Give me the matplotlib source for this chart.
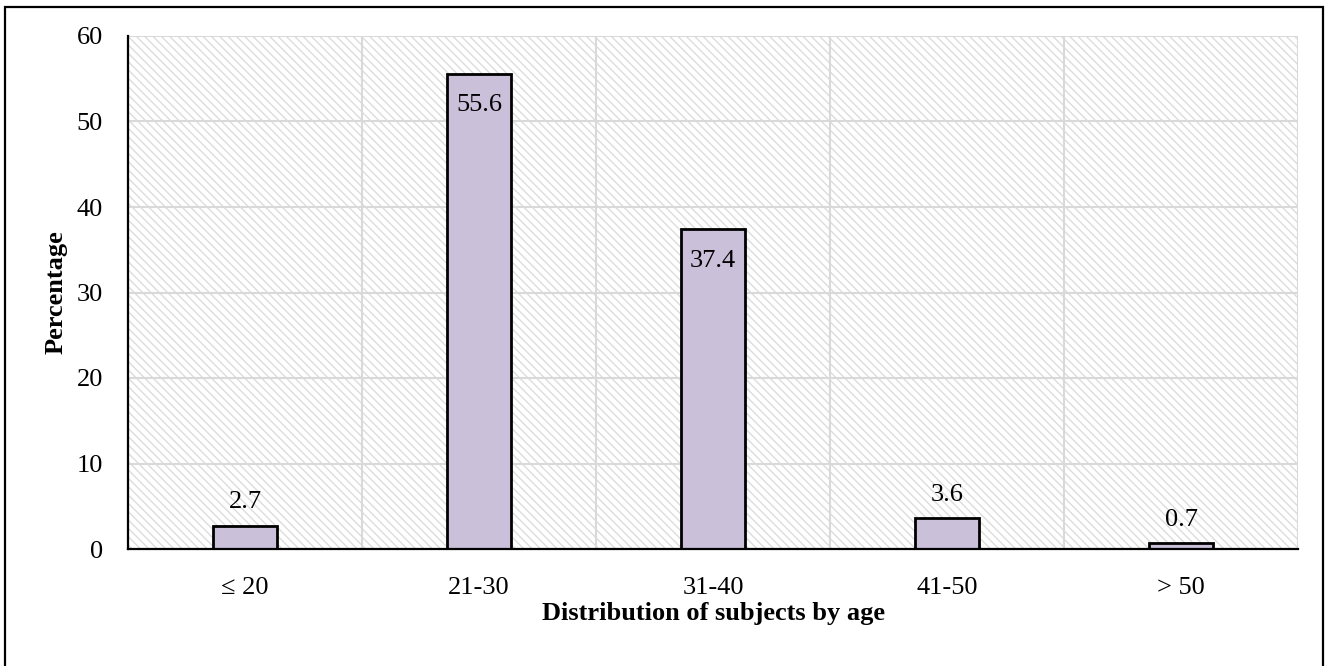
import matplotlib
matplotlib.use("Agg")
import matplotlib.pyplot as plt
from matplotlib.patches import Rectangle

plt.rcParams['font.family'] = ['Liberation Serif', 'DejaVu Serif']
plt.rcParams['hatch.linewidth'] = 1.0

# grupos de idade e percentual de sujeitos
categorias = ['≤ 20', '21-30', '31-40', '41-50', '> 50']
percentual = [2.7, 55.6, 37.4, 3.6, 0.7]
yticks = [0, 10, 20, 30, 40, 50, 60]

W, H = 1331, 666
fig = plt.figure(figsize=(W / 100, H / 100), dpi=100)
ax = fig.add_axes([128 / W, 1 - 549 / H, (1298 - 128) / W, (549 - 36) / H])

# moldura externa
fig.patches.append(Rectangle((5 / W, -0.05), (1323 - 5) / W, 1 - 7 / H + 0.05,
                             transform=fig.transFigure, fill=False,
                             edgecolor='black', linewidth=1.6, zorder=0))

# fundo com hachura diagonal
ax.set_facecolor('white')
ax.add_patch(Rectangle((0, 0), 1, 1, transform=ax.transAxes, facecolor='white',
                       edgecolor='#dcdcdc', hatch='\\\\\\\\', linewidth=0, zorder=0))

x = list(range(len(categorias)))
ax.bar(x, percentual, width=0.275, color='#cbc0da', edgecolor='black',
       linewidth=2, zorder=3)

for xi, v in zip(x, percentual):
    if v > 20:
        ax.annotate(f'{v}', (xi, v), xytext=(0, -15), textcoords='offset points',
                    ha='center', va='top', fontsize=19, zorder=4)
    else:
        ax.annotate(f'{v}', (xi, v), xytext=(0, 9), textcoords='offset points',
                    ha='center', va='bottom', fontsize=19, zorder=4)

ax.set_xlim(-0.5, 4.5)
ax.set_ylim(0, 60)
ax.set_yticks(yticks)
ax.set_xticks(x)
ax.set_xticklabels(categorias)

# grades: horizontais a cada 10 e verticais entre as categorias
for yv in yticks[1:]:
    ax.axhline(yv, color='#d9d9d9', linewidth=1.5, zorder=1)
for xv in [0.5, 1.5, 2.5, 3.5, 4.5]:
    ax.axvline(xv, color='#d9d9d9', linewidth=1.5, zorder=1)

ax.spines['top'].set_visible(False)
ax.spines['right'].set_visible(False)
ax.spines['left'].set_linewidth(1.6)
ax.spines['bottom'].set_linewidth(1.6)
ax.spines['left'].set_zorder(5)
ax.spines['bottom'].set_zorder(5)
ax.tick_params(axis='x', length=0, labelsize=19, pad=20)
ax.tick_params(axis='y', length=0, labelsize=19, pad=18)

ax.set_ylabel('Percentage', fontsize=19, fontweight='bold')
ax.yaxis.label.set_va('center')
ax.yaxis.set_label_coords((56 - 128) / 1170, 0.5)
ax.set_xlabel('Distribution of subjects by age', fontsize=19, fontweight='bold', labelpad=2)

fig.savefig('out.png', dpi=100)
